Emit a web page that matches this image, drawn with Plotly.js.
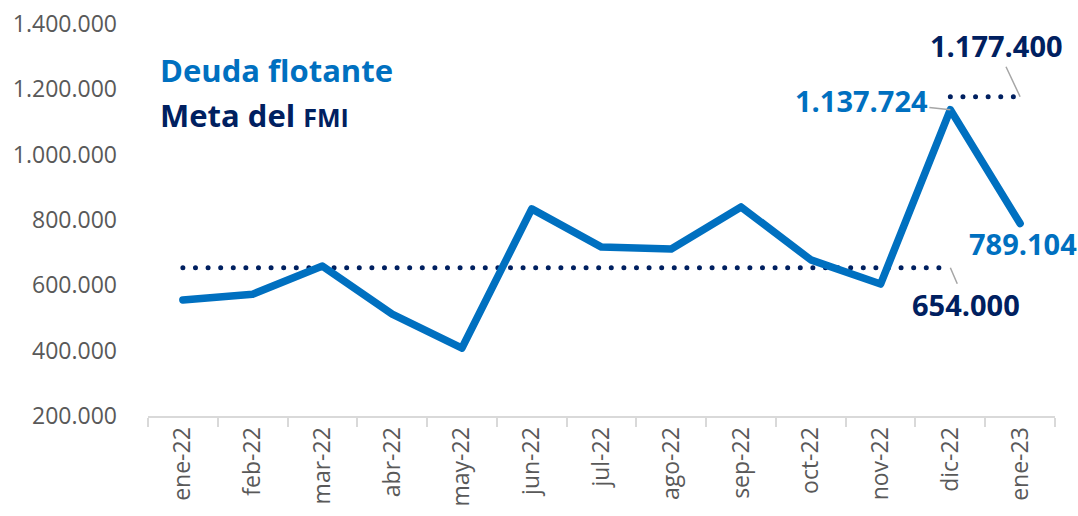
<!DOCTYPE html>
<html>
<head>
<meta charset="utf-8">
<script src="https://cdn.plot.ly/plotly-3.0.1.min.js"></script>
<style>
  html, body { margin: 0; padding: 0; background: #fff; }
  #chart { width: 1078px; height: 516px; }
  .scatterlayer .js-line { stroke-linecap: round; stroke-linejoin: round; }
</style>
</head>
<body>
<div id="chart"></div>
<script>
// months on the x axis
var meses = ['ene-22', 'feb-22', 'mar-22', 'abr-22', 'may-22', 'jun-22', 'jul-22',
             'ago-22', 'sep-22', 'oct-22', 'nov-22', 'dic-22', 'ene-23'];

// deuda flotante (last two labelled)
var deuda = [555000, 573000, 659000, 512000, 408000, 834000, 717000,
             711000, 840000, 678000, 604000, 1137724, 789104];

// meta del FMI: two dotted targets
var meta1 = [654000, 654000, 654000, 654000, 654000, 654000, 654000,
             654000, 654000, 654000, 654000, 654000, null];
var meta2 = [null, null, null, null, null, null, null,
             null, null, null, null, 1177400, 1177400];

var azul = '#0070C0';
var navy = '#002060';
var gris = '#A6A6A6';

function fmt(v) {
    return String(v).replace(/\B(?=(\d{3})+(?!\d))/g, '.');
}

var trDeuda = {
    x: meses, y: deuda, type: 'scatter', mode: 'lines',
    line: {color: azul, width: 7.5}, hoverinfo: 'skip'
};
var trMeta1 = {
    x: meses, y: meta1, type: 'scatter', mode: 'lines',
    line: {color: navy, width: 5, dash: '0px,12.6px'}, hoverinfo: 'skip'
};
var trMeta2 = {
    x: meses, y: meta2, type: 'scatter', mode: 'lines',
    line: {color: navy, width: 5, dash: '0px,12.6px'}, hoverinfo: 'skip'
};

var big = {family: 'Open Sans', size: 29, weight: 700};

var layout = {
    width: 1078, height: 516,
    margin: {l: 148, r: 23, t: 24, b: 100},
    paper_bgcolor: '#fff', plot_bgcolor: '#fff',
    showlegend: false,
    separators: ',.',
    font: {family: 'Open Sans', color: '#595959'},
    xaxis: {
        type: 'category',
        tickson: 'boundaries',
        ticks: 'outside', ticklen: 9, tickwidth: 2, tickcolor: '#D9D9D9',
        showline: true, linecolor: '#D9D9D9', linewidth: 2,
        showgrid: false, zeroline: false,
        tickangle: -90,
        tickfont: {size: 23, color: '#595959'},
        range: [-0.5, 12.5]
    },
    yaxis: {
        range: [200000, 1400000],
        dtick: 200000,
        tickformat: ',d',
        showgrid: false, zeroline: false, showline: false,
        ticks: '',
        ticklabelstandoff: 30,
        tickfont: {size: 23, color: '#595959'}
    },
    annotations: [
        {
            xref: 'paper', yref: 'paper', x: 0.011, y: 0.883,
            xanchor: 'left', yanchor: 'middle', showarrow: false,
            text: 'Deuda flotante',
            font: {family: 'Open Sans', size: 31, weight: 700, color: azul}
        },
        {
            xref: 'paper', yref: 'paper', x: 0.011, y: 0.768,
            xanchor: 'left', yanchor: 'middle', showarrow: false,
            text: 'Meta del <span style="font-size:25px">FMI</span>',
            font: {family: 'Open Sans', size: 31, weight: 700, color: navy}
        },
        {
            x: meses[12], y: meta2[12], text: fmt(meta2[12]),
            showarrow: true, arrowhead: 0, arrowwidth: 1.5, arrowcolor: gris,
            ax: -24, ay: -51, standoff: 0,
            font: Object.assign({}, big, {color: navy})
        },
        {
            x: meses[11], y: deuda[11], text: fmt(deuda[11]),
            showarrow: true, arrowhead: 0, arrowwidth: 1.5, arrowcolor: gris,
            ax: -89, ay: -9, standoff: 0,
            font: Object.assign({}, big, {color: azul})
        },
        {
            x: meses[12], y: deuda[12], text: fmt(deuda[12]),
            showarrow: false, xshift: 3, yshift: -20,
            font: Object.assign({}, big, {color: azul})
        },
        {
            x: meses[11], y: meta1[11], text: fmt(meta1[11]),
            showarrow: true, arrowhead: 0, arrowwidth: 1.5, arrowcolor: gris,
            ax: 16, ay: 37, standoff: 0,
            font: Object.assign({}, big, {color: navy})
        }
    ]
};

Plotly.newPlot('chart', [trMeta1, trMeta2, trDeuda], layout, {staticPlot: true});
</script>
</body>
</html>
